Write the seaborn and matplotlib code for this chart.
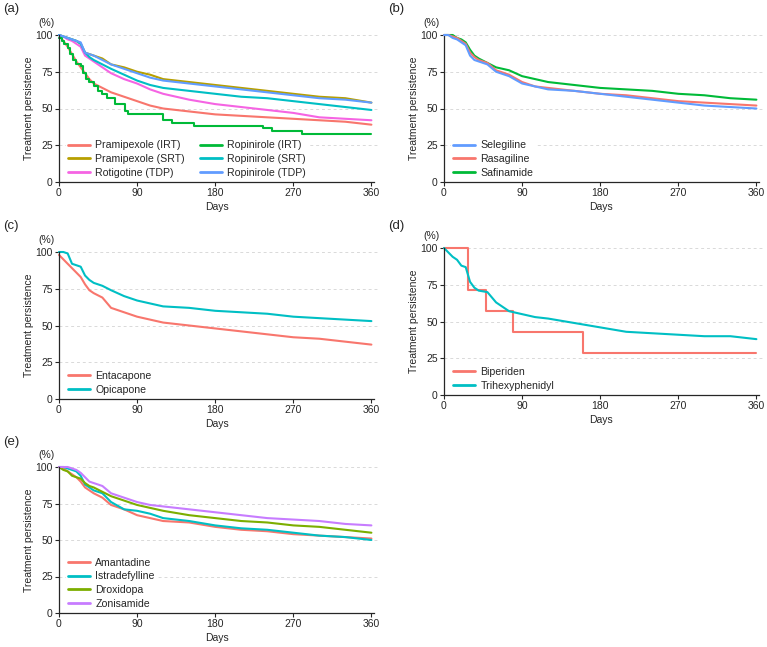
import numpy as np
import pandas as pd
import matplotlib
matplotlib.use("Agg")
import matplotlib.pyplot as plt
import seaborn as sns

sns.set_style("ticks")
plt.rcParams["font.family"] = ["Liberation Sans", "DejaVu Sans"]

# common day grid for most curves
days = [0, 5, 10, 15, 20, 25, 30, 35, 40, 50, 60, 75, 90, 105, 120, 150, 180, 210, 240, 270, 300, 330, 360]

# (a) dopamine agonists
pram_irt = [100, 96, 92, 87, 82, 78, 74, 70, 67, 64, 61, 58, 55, 52, 50, 48, 46, 45, 44, 43, 42, 41, 39]
pram_srt = [100, 99, 98, 97, 96, 94, 88, 87, 86, 84, 80, 78, 75, 73, 70, 68, 66, 64, 62, 60, 58, 57, 54]
rotig_tdp = [100, 99, 97, 96, 94, 92, 86, 84, 82, 78, 74, 70, 67, 63, 60, 56, 53, 51, 49, 47, 44, 43, 42]
rop_srt = [100, 99, 98, 97, 96, 94, 88, 85, 83, 80, 77, 73, 69, 66, 64, 62, 60, 58, 57, 55, 53, 51, 49]
rop_tdp = [100, 99, 98, 97, 96, 95, 88, 87, 86, 83, 80, 77, 74, 71, 69, 67, 65, 63, 61, 59, 57, 56, 54]
rop_irt_days = [0, 3, 6, 10, 13, 16, 20, 25, 28, 31, 35, 40, 45, 50, 55, 65, 76, 80, 120, 130, 155, 235, 245, 280, 360]
rop_irt = [98, 96, 94, 91, 87, 83, 80, 79, 74, 70, 68, 65, 62, 60, 57, 53, 48, 46, 42, 40, 38, 36.5, 34.5, 32.5, 32.5]

# (b) MAO-B inhibitors
selegiline = [100, 100, 98, 97, 95, 93, 86, 83, 82, 80, 75, 72, 67, 65, 63, 62, 60, 58, 56, 54, 52, 51, 50]
rasagiline = [100, 100, 99, 98, 96, 94, 88, 85, 83, 81, 76, 73, 68, 65, 64, 62, 60, 59, 57, 55, 54, 53, 52]
safinamide = [100, 100, 100, 98, 97, 95, 90, 86, 84, 81, 78, 76, 72, 70, 68, 66, 64, 63, 62, 60, 59, 57, 56]

# (c) COMT inhibitors
entacapone = [98, 95, 92, 89, 86, 83, 78, 74, 72, 69, 62, 59, 56, 54, 52, 50, 48, 46, 44, 42, 41, 39, 37]
opicapone = [100, 100, 99, 92, 91, 90, 84, 81, 79, 77, 74, 70, 67, 65, 63, 62, 60, 59, 58, 56, 55, 54, 53]

# (d) anticholinergics
biperiden_days = [0, 28, 48, 80, 160, 360]
biperiden = [100, 71.4, 57.1, 42.9, 28.6, 28.6]
trihexyphenidyl = [100, 97, 94, 92, 88, 87, 77, 73, 71, 70, 63, 57, 55, 53, 52, 49, 46, 43, 42, 41, 40, 40, 38]

# (e) others
amantadine = [100, 99, 97, 95, 93, 90, 86, 84, 82, 79, 74, 71, 67, 65, 63, 62, 59, 57, 56, 54, 53, 52, 51]
istradefylline = [100, 100, 99, 98, 97, 94, 88, 86, 84, 82, 76, 71, 70, 68, 65, 63, 60, 58, 57, 55, 53, 52, 50]
droxidopa = [100, 98, 97, 94, 93, 92, 89, 87, 86, 83, 80, 77, 74, 72, 70, 67, 65, 63, 62, 60, 59, 57, 55]
zonisamide = [100, 100, 100, 99, 98, 96, 93, 90, 89, 87, 82, 79, 76, 74, 73, 71, 69, 67, 65, 64, 63, 61, 60]

RED = "#F8766D"
GOLD = "#B79F00"
MAGENTA = "#F564E3"
GREEN = "#00BA38"
CYAN = "#00BFC4"
BLUE = "#619CFF"
OLIVE = "#7CAE00"
PURPLE = "#C77CFF"

W, H = 767, 647
fig = plt.figure(figsize=(W / 100, H / 100), dpi=100)


def make_ax(left, top, width=315, height=147):
    return fig.add_axes([left / W, 1 - (top + height) / H, width / W, height / H])


def draw(ax, x, y, name, color, steps=False, z=2):
    df = pd.DataFrame({"day": x, "pct": y})
    kw = {"drawstyle": "steps-post"} if steps else {}
    sns.lineplot(data=df, x="day", y="pct", color=color, label=name, lw=1.5,
                 estimator=None, ax=ax, clip_on=False, zorder=z, **kw)


def style(ax, tag, tag_xy, ncol=1):
    ax.set_xlim(0, 363)
    ax.set_ylim(0, 100)
    ax.set_xticks([0, 90, 180, 270, 360])
    ax.set_yticks([0, 25, 50, 75, 100])
    for v in [25, 50, 75, 100]:
        ax.axhline(v, color="#d9d9d9", lw=0.7, ls=(0, (3, 3)), zorder=0, xmax=1.015, clip_on=False)
    ax.tick_params(labelsize=7.5, length=3, width=0.8, pad=1.5)
    for s in ["top", "right"]:
        ax.spines[s].set_visible(False)
    for s in ["left", "bottom"]:
        ax.spines[s].set_linewidth(0.9)
    ax.set_xlabel("Days", fontsize=7.5, labelpad=2.5)
    ax.set_ylabel("Treatment persistence", fontsize=7.5, labelpad=1)
    ax.text(-0.04, 1.05, "(%)", transform=ax.transAxes, fontsize=7.5, ha="center", va="bottom")
    fig.text(tag_xy[0] / W, 1 - tag_xy[1] / H, tag, fontsize=9.5, ha="left", va="center")
    leg = ax.legend(loc="lower left", bbox_to_anchor=(0.015, 0.0), ncol=ncol, fontsize=7.6,
                    frameon=True, handlelength=2.1, handletextpad=0.5, columnspacing=1.4,
                    labelspacing=0.35, borderaxespad=0.2, borderpad=0.2)
    leg.get_frame().set_facecolor("white")
    leg.get_frame().set_edgecolor("none")
    leg.get_frame().set_alpha(1)
    for line in leg.get_lines():
        line.set_linewidth(2)


# (a)
ax = make_ax(59, 35)
draw(ax, days, pram_irt, "Pramipexole (IRT)", RED)
draw(ax, days, pram_srt, "Pramipexole (SRT)", GOLD)
draw(ax, days, rotig_tdp, "Rotigotine (TDP)", MAGENTA)
draw(ax, rop_irt_days, rop_irt, "Ropinirole (IRT)", GREEN, steps=True)
draw(ax, days, rop_srt, "Ropinirole (SRT)", CYAN)
draw(ax, days, rop_tdp, "Ropinirole (TDP)", BLUE)
style(ax, "(a)", (3, 9), ncol=2)

# (b)
ax = make_ax(444, 35)
draw(ax, days, selegiline, "Selegiline", BLUE, z=4)
draw(ax, days, rasagiline, "Rasagiline", RED, z=3)
draw(ax, days, safinamide, "Safinamide", GREEN, z=2)
style(ax, "(b)", (388, 9))

# (c)
ax = make_ax(59, 252)
draw(ax, days, entacapone, "Entacapone", RED)
draw(ax, days, opicapone, "Opicapone", CYAN)
style(ax, "(c)", (3, 226))

# (d)
ax = make_ax(444, 248)
draw(ax, biperiden_days, biperiden, "Biperiden", RED, steps=True)
draw(ax, days, trihexyphenidyl, "Trihexyphenidyl", CYAN)
style(ax, "(d)", (388, 226))

# (e)
ax = make_ax(59, 467, height=146)
draw(ax, days, amantadine, "Amantadine", RED)
draw(ax, days, istradefylline, "Istradefylline", CYAN)
draw(ax, days, droxidopa, "Droxidopa", OLIVE)
draw(ax, days, zonisamide, "Zonisamide", PURPLE)
style(ax, "(e)", (3, 442))

fig.savefig("out.png", dpi=100)
